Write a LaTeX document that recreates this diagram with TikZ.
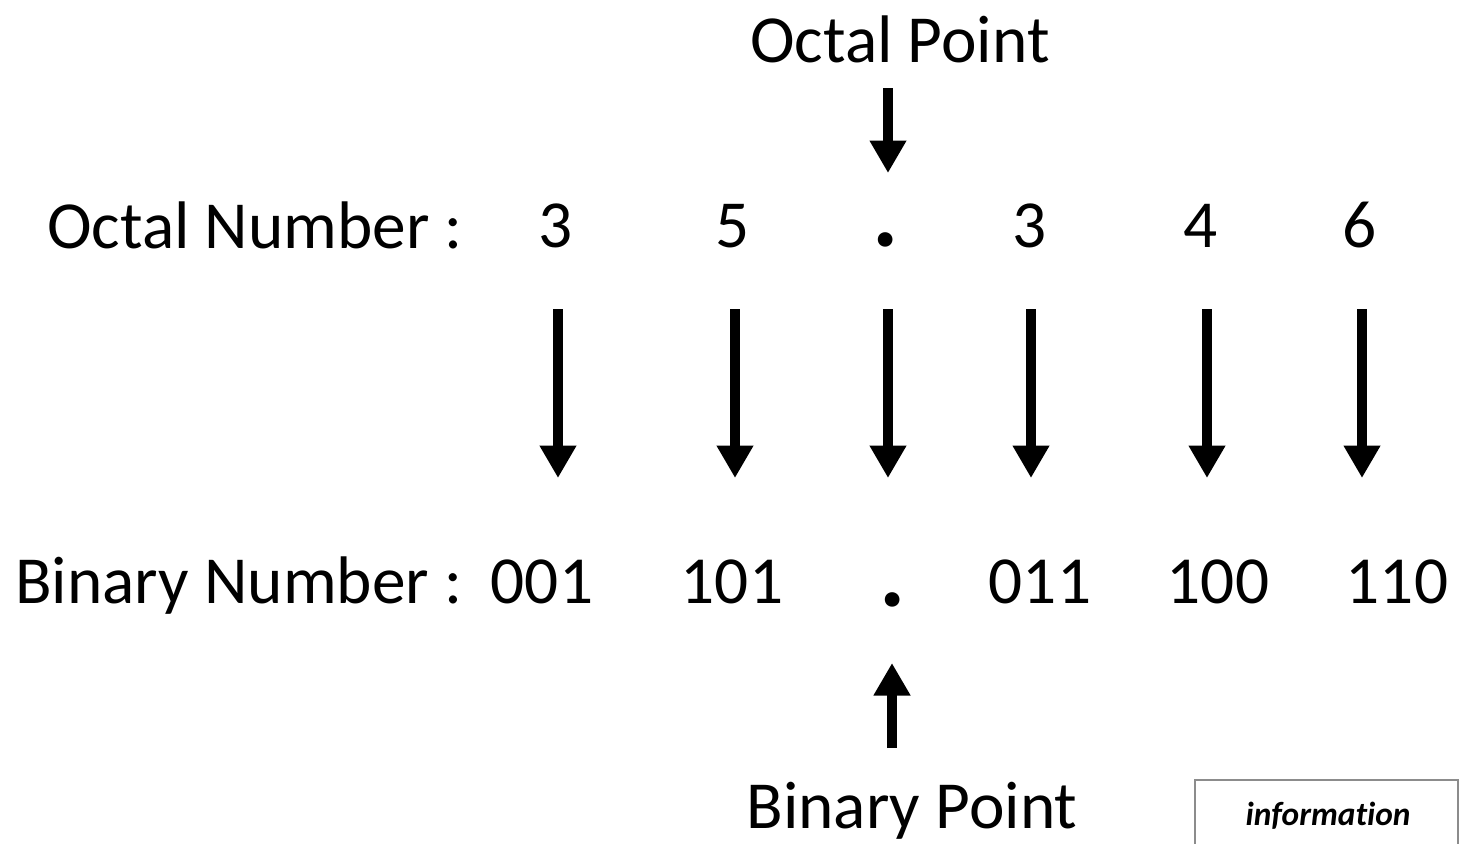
\documentclass[tikz,border=0pt]{standalone}
\usepackage{fontspec}
\setmainfont{Carlito}
\usetikzlibrary{arrows.meta}
\begin{document}
\begin{tikzpicture}[x=0.02cm, y=-0.02cm,
		txt/.style={inner sep=0pt, anchor=base, font=\fontsize{38.3}{46}\selectfont},
		bigarrow/.style={line width=5.6pt, -{Triangle[length=18.5pt, width=19.8pt]}},
		infobox/.style={draw=black!45, line width=1.2pt}]
		\useasboundingbox (0,0) rectangle (1474,843);
		% row labels
		\node[txt, anchor=base west] (octlbl) at (47,248) {Octal Number :};
		\node[txt, anchor=base west] (binlbl) at (15,603) {Binary Number :};
		% octal digits and the binary groups under them
		\foreach \n/\ox/\ov/\bx/\bv in {1/556/3/542/001, 2/733/5/732/101, 4/1030/3/1040/011, 5/1201/4/1218/100, 6/1360/6/1397/110}
		{
			\node[txt] (o\n) at (\ox,247) {\ov};
			\node[txt] (b\n) at (\bx,603) {\bv};
		}
		\node[txt, font=\fontsize{56}{60}\selectfont\bfseries] (o3) at (886,246) {.};
		\node[txt, font=\fontsize{56}{60}\selectfont\bfseries] (b3) at (893,606) {.};
		\node[txt] (octpt) at (900,62) {Octal Point};
		\node[txt] (binpt) at (912,828) {Binary Point};
		% arrows
		\foreach \n/\ax in {1/558, 2/735, 3/888, 4/1031, 5/1207, 6/1362}
		{
			\coordinate (s\n) at (\ax,309);
			\coordinate (e\n) at (\ax,478);
			\draw[bigarrow] (s\n) -- (e\n);
		}
		\coordinate (optop) at (888,88);
		\coordinate (opend) at (888,173);
		\draw[bigarrow] (optop) -- (opend);
		\coordinate (bpbot) at (892,748);
		\coordinate (bpend) at (892,663);
		\draw[bigarrow] (bpbot) -- (bpend);
		% corner box
		\draw[infobox] (1195,780) rectangle (1458,850);
		\node[inner sep=0pt, anchor=base, font=\fontsize{19}{22}\selectfont\bfseries\itshape\addfontfeature{Ligatures=NoCommon}] (info) at (1328,825) {information};
	\end{tikzpicture}
\end{document}
